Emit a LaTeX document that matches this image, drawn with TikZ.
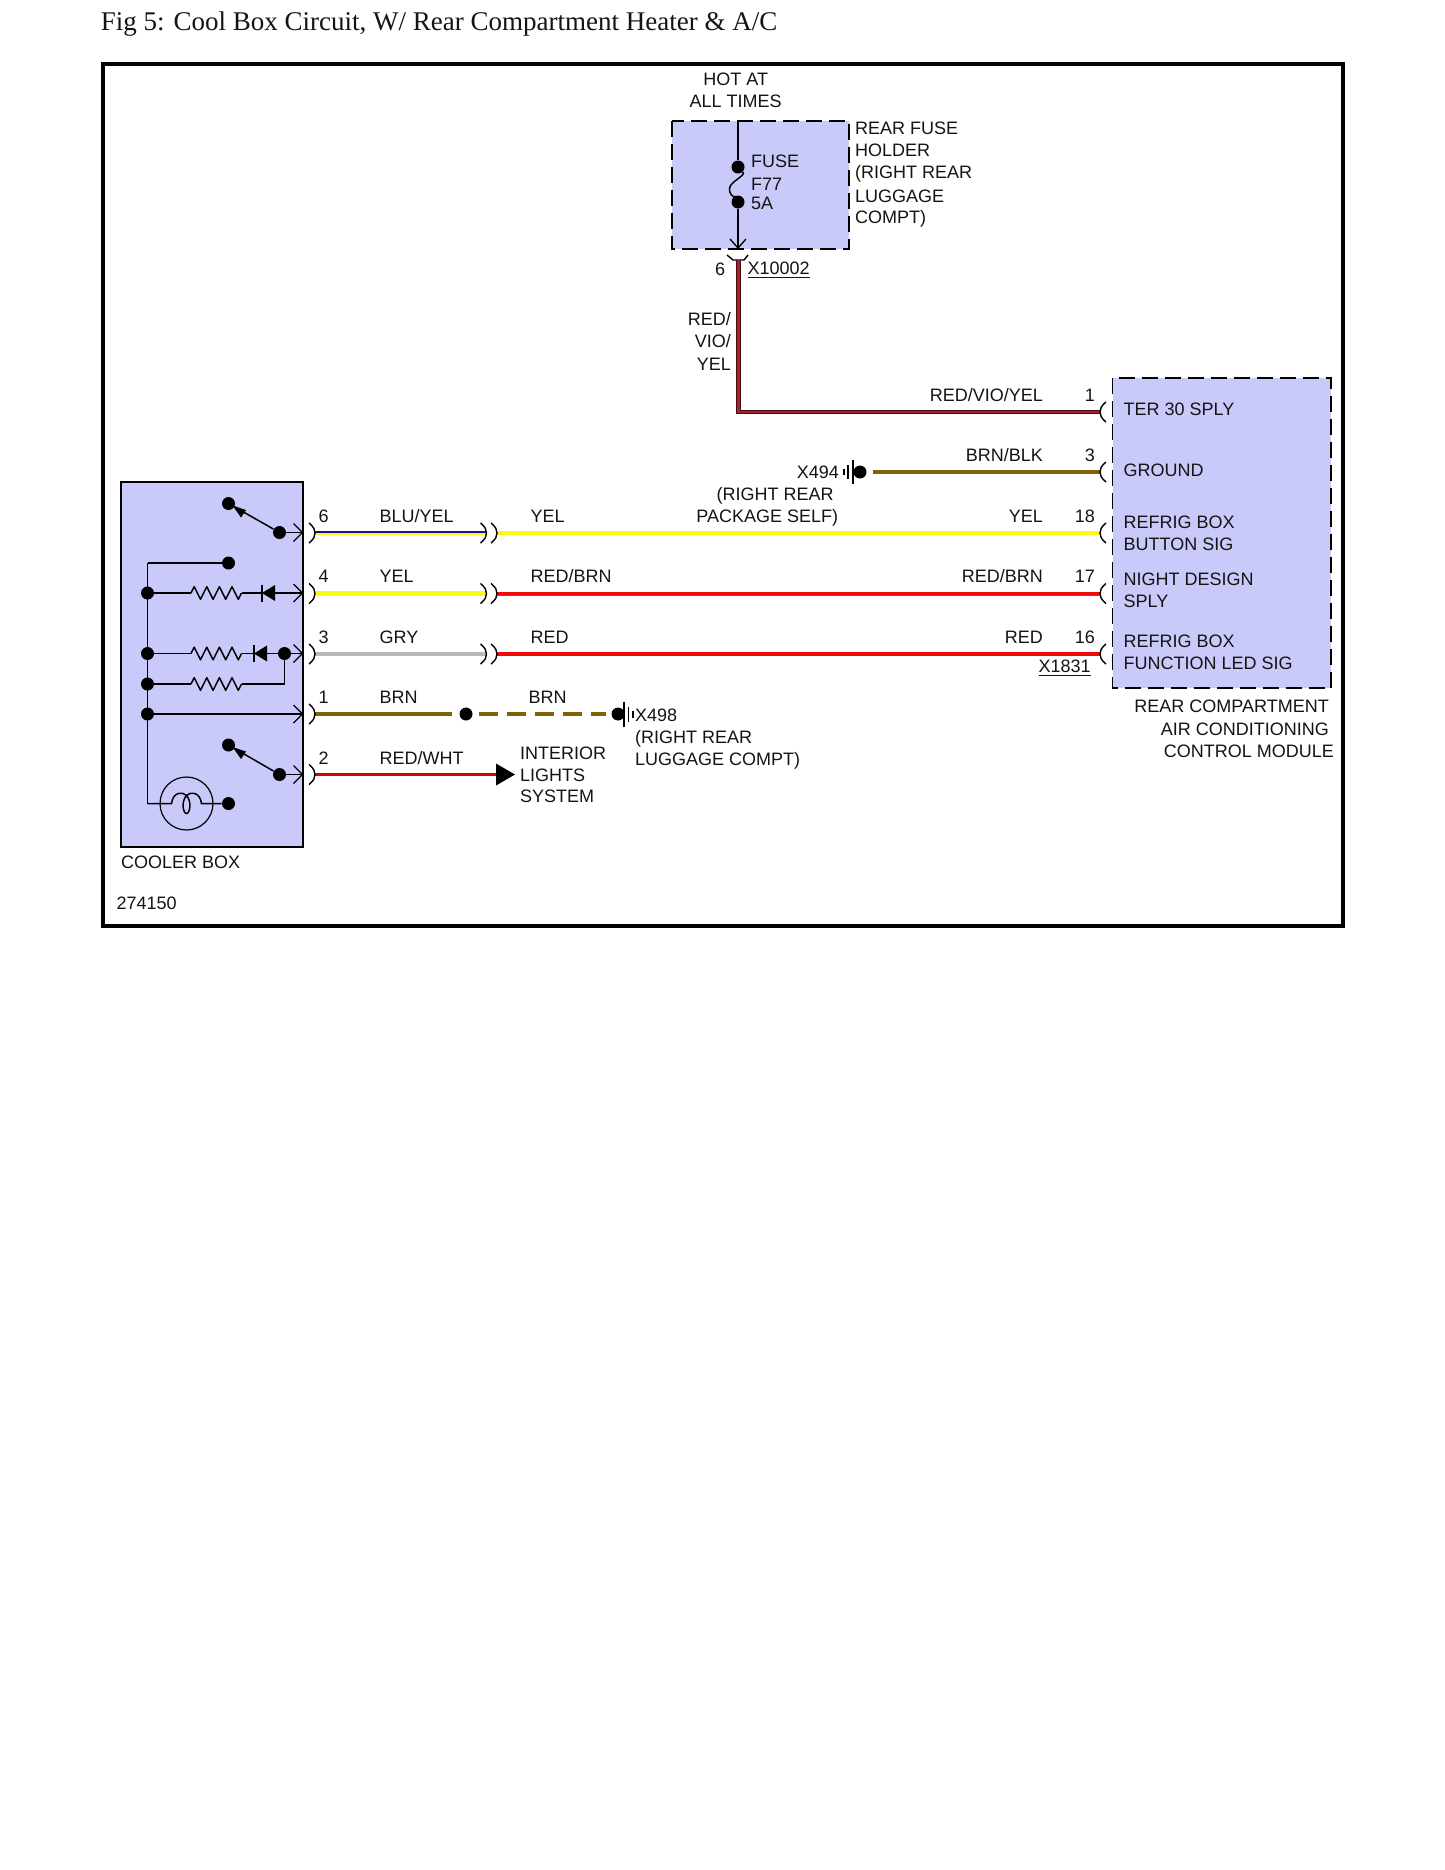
\documentclass[tikz,border=0pt]{standalone}
\usepackage{fontspec}
\setmainfont{Liberation Sans}
\newfontfamily\titlefont{Liberation Serif}
\definecolor{boxfill}{RGB}{201,201,250}
\definecolor{wbrn}{RGB}{125,98,10}
\definecolor{wred}{RGB}{240,10,10}
\definecolor{wyel}{RGB}{250,250,20}
\definecolor{wgry}{RGB}{185,185,185}
\definecolor{wblu}{RGB}{20,20,130}
\definecolor{wvio}{RGB}{165,35,45}
\definecolor{wvid}{RGB}{70,10,15}
\definecolor{ink}{RGB}{20,20,20}
\tikzset{
  lbl/.style={inner sep=0pt,font=\fontsize{9}{11}\selectfont,text=ink,anchor=west,xshift=-0.4pt},
  lblr/.style={lbl,anchor=east},
  lblc/.style={lbl,anchor=center},
  ckt/.style={draw=black,line width=0.75pt},
  fine/.style={draw=black,line width=0.6pt},
  conn/.style={draw=black,line width=0.7pt},
  dotn/.style={circle,fill=black,inner sep=0pt,minimum size=6.5pt},
  fatwire/.style={line width=2.2pt},
  opena/.style={draw=black,line width=0.65pt},
  dashbox/.style={fill=boxfill,draw=black,line width=0.7pt,dash pattern=on 8pt off 3.5pt},
  solidbox/.style={fill=boxfill,draw=black,line width=0.7pt},
}
\newcommand{\oarrow}[2]{\draw[opena] (#1-9,#2-9) -- (#1,#2) -- (#1-9,#2+9);}
\newcommand{\fcurveL}[2]{\draw[conn] (#1-6,#2-10) .. controls (#1-1,#2-6) and (#1,#2-3) .. (#1,#2) .. controls (#1,#2+3) and (#1-1,#2+6) .. (#1-6,#2+10);}
\newcommand{\fcurveR}[2]{\draw[conn] (#1+6,#2-10) .. controls (#1+1,#2-6) and (#1,#2-3) .. (#1,#2) .. controls (#1,#2+3) and (#1+1,#2+6) .. (#1+6,#2+10);}
\newcommand{\zig}[2]{\draw[ckt,line join=round] (#1,#2) -- ++(3.2,-6.3) -- ++(6.3,12.6) -- ++(6.3,-12.6) -- ++(6.3,12.6) -- ++(6.3,-12.6) -- ++(6.3,12.6) -- ++(6.3,-12.6) -- ++(6.3,12.6) -- ++(3.2,-6.3);}
\begin{document}
\begin{tikzpicture}[x=0.5pt,y=-0.5pt]
\useasboundingbox (0,0) rectangle (1445,1870);
\fill[white] (0,0) rectangle (1445,1870);
\node[inner sep=0pt,anchor=west,font=\titlefont\fontsize{13.5}{16}\selectfont,text=ink] (title) at (100.5,23.8) {Fig 5: Cool Box Circuit, W/ Rear Compartment Heater \& A/C};
\draw[line width=2pt] (103,64) rectangle (1342.5,926);

% boxes
\draw[solidbox] (121,482) rectangle (303,847);
\draw[dashbox] (672,121) rectangle (849,249);
\draw[dashbox] (1112.5,378) rectangle (1331,688);

% fuse
\coordinate (ftop) at (738,121);
\node[dotn] (f1) at (738,167) {};
\node[dotn] (f2) at (738,202) {};
\coordinate (ftip) at (738,248);
\draw[fine] (ftop) -- (f1);
\draw[ckt] (f1) .. controls (747,176) and (727,182) .. (729.5,191) .. controls (731,197) and (736,198) .. (f2);
\draw[fine] (f2) -- (ftip);
\draw[opena] (730,239) -- (ftip) -- (746,239);
\draw[conn] (727,255) -- (733,260) -- (744,260) -- (748,255);
\node[lbl] (tfuse) at (751.5,161) {FUSE};
\node[lbl] (tf77) at (751.5,184) {F77};
\node[lbl] (t5a) at (751.5,203) {5A};
\node[lblc] (thot) at (736.5,79) {HOT AT};
\node[lblc] (tall) at (736.5,101) {ALL TIMES};
\node[lbl] (trf1) at (855.5,128) {REAR FUSE};
\node[lbl] (trf2) at (855.5,150.5) {HOLDER};
\node[lbl] (trf3) at (855.5,174) {(RIGHT REAR};
\node[lbl] (trf4) at (855.5,196) {LUGGAGE};
\node[lbl] (trf5) at (855.5,219) {COMPT)};
\node[lblc] (tsix) at (721,269) {6};
\node[lbl] (tx1) at (748,270) {\underline{X10002}};
\node[lblr] (tr1) at (732,319) {RED/};
\node[lblr] (tr2) at (732,341.5) {VIO/};
\node[lblr] (tr3) at (732,364) {YEL};

% wire RED/VIO/YEL
\coordinate (w1a) at (738.5,260);
\coordinate (w1b) at (738.5,412);
\coordinate (w1c) at (1100,412);
\draw[line width=2.4pt,draw=wvid,line join=miter] (w1a) -- (w1b) -- (w1c);
\draw[line width=1.3pt,draw=wvio,line join=miter] (w1a) -- (w1b) -- (w1c);
\node[lblr] (a1) at (1044,395) {RED/VIO/YEL};
\node[lblr] (p1) at (1096,395) {1};
\fcurveR{1100}{412}

% ground X494
\node[dotn] (g1) at (860,472) {};
\draw[fine] (853,460) -- (853,484);
\draw[fine] (848,465) -- (848,479);
\draw[fine] (844,469) -- (844,475);
\node[lblr] (tx494) at (840,472) {X494};
\node[lblc] (tr) at (776,496) {(RIGHT REAR};
\node[lblc] (tp) at (768,517.5) {PACKAGE SELF)};
\coordinate (w2a) at (873,472);
\coordinate (w2b) at (1100,472);
\draw[fatwire,draw=wbrn] (w2a) -- (w2b);
\node[lblr] (a2) at (1044,455) {BRN/BLK};
\node[lblr] (p2) at (1096,455) {3};
\fcurveR{1100}{472}

% right labels
\node[lbl] (m1) at (1124,409) {TER 30 SPLY};
\node[lbl] (m2) at (1124,470) {GROUND};
\node[lbl] (m3) at (1124,522) {REFRIG BOX};
\node[lbl] (m4) at (1124,544) {BUTTON SIG};
\node[lbl] (m5) at (1124,579) {NIGHT DESIGN};
\node[lbl] (m6) at (1124,601) {SPLY};
\node[lbl] (m7) at (1124,641) {REFRIG BOX};
\node[lbl] (m8) at (1124,663) {FUNCTION LED SIG};
\node[lblr] (n1) at (1330,706) {REAR COMPARTMENT};
\node[lblr] (n2) at (1330,729) {AIR CONDITIONING};
\node[lblr] (n3) at (1335,751) {CONTROL MODULE};

% wire labels
\node[lbl] (l6a) at (380,516.5) {BLU/YEL};
\node[lbl] (l4a) at (380,576.5) {YEL};
\node[lbl] (l3a) at (380,637.5) {GRY};
\node[lbl] (l1a) at (380,697.5) {BRN};
\node[lbl] (l2a) at (380,758) {RED/WHT};
\node[lbl] (l6b) at (531,516.5) {YEL};
\node[lbl] (l4b) at (531,576.5) {RED/BRN};
\node[lbl] (l3b) at (531,637.5) {RED};
\node[lbl] (l1b) at (529,697.5) {BRN};
\node[lbl] (p6) at (319,516.5) {6};
\node[lbl] (p4) at (319,576.5) {4};
\node[lbl] (p3) at (319,637.5) {3};
\node[lbl] (p11) at (319,697.5) {1};
\node[lbl] (p2l) at (319,758) {2};
\node[lblr] (r6) at (1044,516.5) {YEL};
\node[lblr] (r4) at (1044,576.5) {RED/BRN};
\node[lblr] (r3) at (1044,637.5) {RED};
\node[lblr] (q6) at (1096,516.5) {18};
\node[lblr] (q4) at (1096,576.5) {17};
\node[lblr] (q3) at (1096,637.5) {16};
\node[lbl] (x1831) at (1039,668) {\underline{X1831}};

% left segments
\draw[fatwire,draw=wyel] (315,533) -- (486,533);
\draw[line width=1pt,draw=wblu] (315,532) -- (486,532);
\draw[fatwire,draw=wyel] (315,593.5) -- (486,593.5);
\draw[fatwire,draw=wgry] (315,654) -- (486,654);
\draw[fatwire,draw=wbrn] (315,714) -- (452,714);
\draw[line width=1.2pt,draw=red!85!black] (315,774.5) -- (498,774.5);
\fill[black] (496,763.5) -- (515,774.5) -- (496,785.5) -- cycle;
% right segments
\draw[fatwire,draw=wyel] (497,533) -- (1100,533);
\draw[line width=2pt,draw=wbrn] (497,593.7) -- (1100,593.7);
\draw[line width=1.5pt,draw=wred] (497,593.1) -- (1100,593.1);
\draw[fatwire,draw=wred] (497,654) -- (1100,654);
% dashed
\node[dotn] (d1) at (466,714) {};
\node[dotn] (d2) at (618,714) {};
\draw[fatwire,draw=wbrn,dash pattern=on 9.6pt off 4.4pt] (479,714) -- (606,714);
\draw[ckt] (624,701.5) -- (624,726.5);
\draw[fine] (628.5,706.5) -- (628.5,721.5);
\draw[fine] (633,710.5) -- (633,717.5);
\node[lbl] (x498) at (635.5,715) {X498};
\node[lbl] (x4a) at (635.5,739) {(RIGHT REAR};
\node[lbl] (x4b) at (635.5,761) {LUGGAGE COMPT)};
\node[lbl] (il1) at (520.5,753) {INTERIOR};
\node[lbl] (il2) at (520.5,775) {LIGHTS};
\node[lbl] (il3) at (520.5,796) {SYSTEM};

% pin connectors
\foreach \yy in {533,593.5,654,714,774.5} {
  \fcurveL{315}{\yy}
}
\foreach \yy in {533,593.5,654} {
  \fcurveL{486.5}{\yy}
  \fcurveL{497}{\yy}
}
\fcurveR{1100}{533}
\fcurveR{1100}{593.5}
\fcurveR{1100}{654}

% cooler box internals
\coordinate (bustop) at (147.5,563);
\coordinate (busbot) at (147.5,803.5);
\draw[fine] (bustop) -- (busbot);
\node[dotn] (s0) at (228.5,563) {};
\draw[ckt] (bustop) -- (s0);
% switch 1
\node[dotn] (s1a) at (228.5,503.5) {};
\node[dotn] (s1b) at (279.5,532.5) {};
\draw[ckt] (s1b) -- (s1a);
\fill[black] (232.5,505.5) -- (246,510) -- (241,517.5) -- cycle;
\coordinate (t1) at (302.5,532.5);
\draw[fine] (s1b) -- (t1);
\oarrow{302.5}{532.5}
% row 4
\node[dotn] (b4) at (147.5,593) {};
\zig{191}{593}
\draw[ckt] (b4) -- (191,593);
\draw[ckt] (241.5,593) -- (262,593);
\fill[black] (262,593) -- (275,585) -- (275,601) -- cycle;
\draw[ckt] (262,584.5) -- (262,601.5);
\draw[ckt] (275,593) -- (302.5,593);
\oarrow{302.5}{593}
% row 3
\node[dotn] (b3) at (147.5,653.5) {};
\zig{191}{653.5}
\draw[fine] (b3) -- (191,653.5);
\draw[fine] (241.5,653.5) -- (254,653.5);
\fill[black] (254,653.5) -- (267,645.5) -- (267,661.5) -- cycle;
\draw[ckt] (254,645) -- (254,662);
\node[dotn] (j3) at (284.5,653.5) {};
\draw[fine] (267,653.5) -- (j3);
\draw[fine] (j3) -- (302.5,653.5);
\oarrow{302.5}{653.5}
% row 3b
\node[dotn] (b35) at (147.5,684) {};
\zig{191}{684}
\draw[ckt] (b35) -- (191,684);
\draw[ckt] (241.5,684) -- (284.5,684) -- (j3);
% row 1
\node[dotn] (b1) at (147.5,714) {};
\draw[ckt] (b1) -- (302.5,714);
\oarrow{302.5}{714}
% switch 2
\node[dotn] (s2a) at (228.5,745) {};
\node[dotn] (s2b) at (279.5,774.5) {};
\draw[ckt] (s2b) -- (s2a);
\fill[black] (232.5,747) -- (246,751.5) -- (241,759) -- cycle;
\draw[fine] (s2b) -- (302.5,774.5);
\oarrow{302.5}{774.5}
% lamp
\node[circle,draw=black,line width=0.6pt,inner sep=0pt,minimum size=26.5pt] (lamp) at (186.5,803.5) {};
\node[dotn] (ld) at (228.5,803.5) {};
\draw[ckt] (busbot) -- (171.5,803.5) .. controls (173,791.5) and (183,791.5) .. (186.5,795.5) .. controls (192,801.5) and (190,813.5) .. (186.5,813.5) .. controls (183,813.5) and (181,801.5) .. (186.5,795.5) .. controls (190,791.5) and (200,791.5) .. (201.5,803.5) -- (ld);
\node[lbl] (cb) at (121.5,862) {COOLER BOX};
\node[lbl] (num) at (117,903) {274150};
\end{tikzpicture}
\end{document}
